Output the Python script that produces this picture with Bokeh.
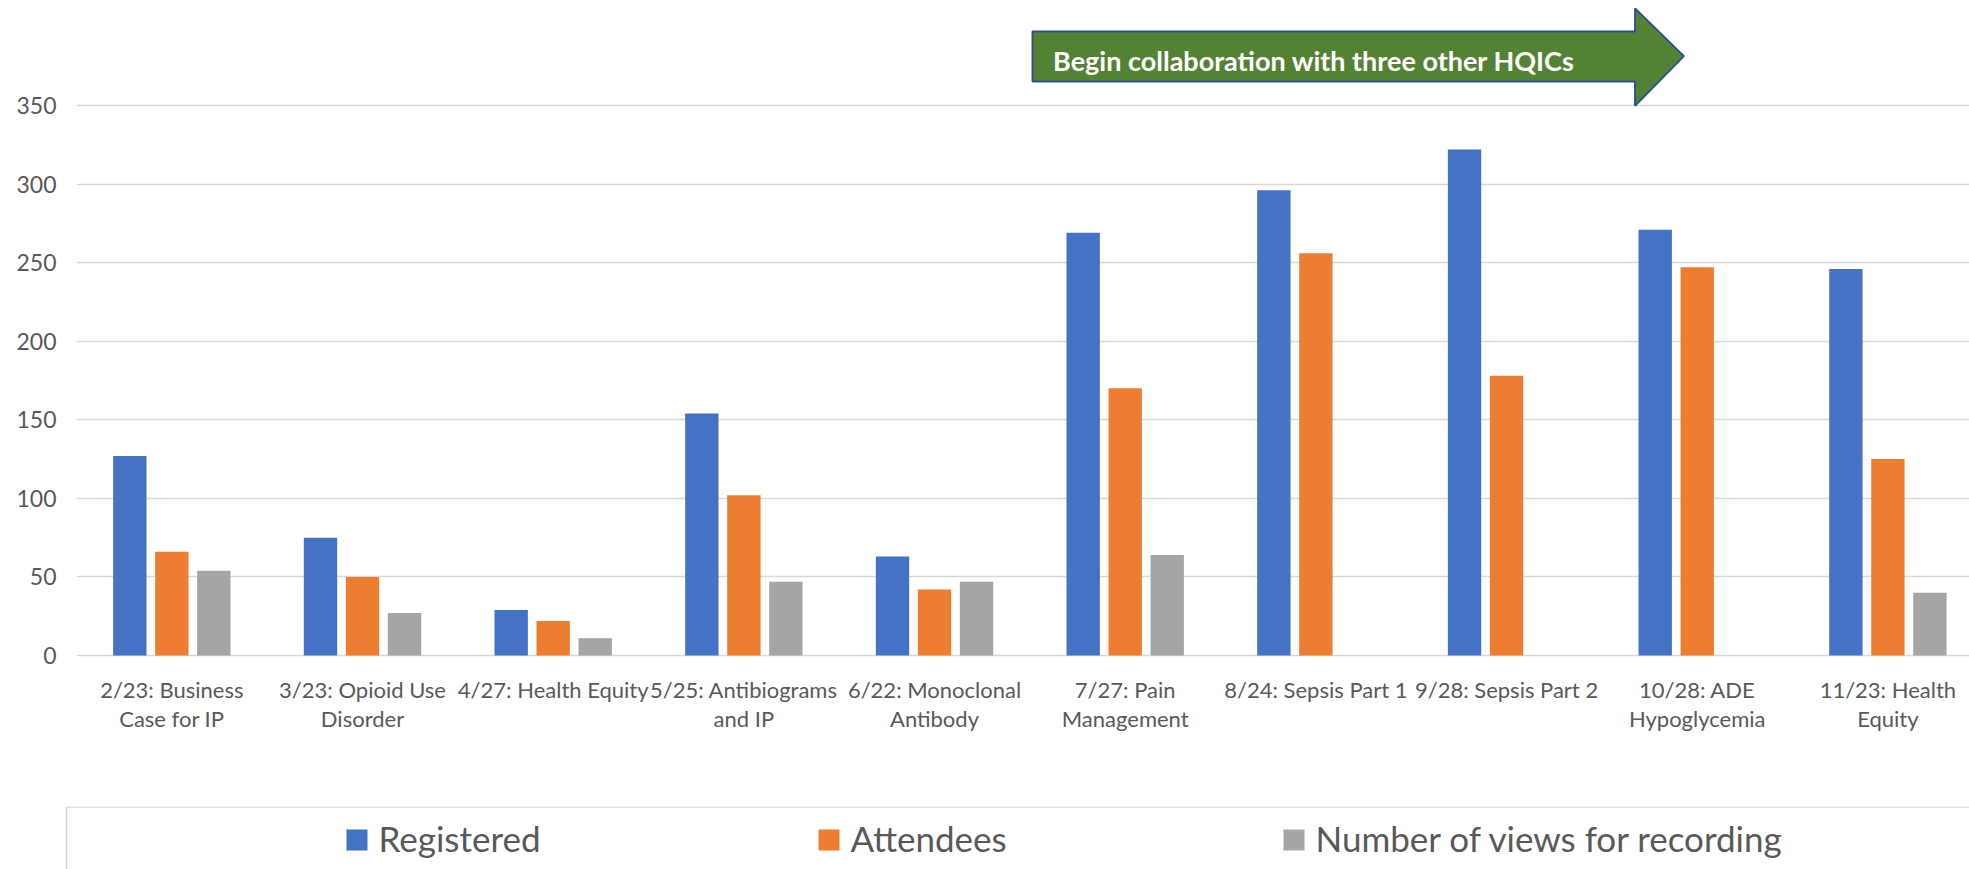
from bokeh.plotting import figure
from bokeh.layouts import column
from bokeh.models import Range1d, FixedTicker, ColumnDataSource
from bokeh.core.properties import value
from bokeh.embed import file_html
from bokeh.resources import INLINE

# ---- data ----
categories = [
    "2/23: Business\nCase for IP",
    "3/23: Opioid Use\nDisorder",
    "4/27: Health Equity",
    "5/25: Antibiograms\nand IP",
    "6/22: Monoclonal\nAntibody",
    "7/27: Pain\nManagement",
    "8/24: Sepsis Part 1",
    "9/28: Sepsis Part 2",
    "10/28: ADE\nHypoglycemia",
    "11/23: Health\nEquity",
]
registered = [127, 75, 29, 154, 63, 269, 296, 322, 271, 246]
attendees = [66, 50, 22, 102, 42, 170, 256, 178, 247, 125]
views = [54, 27, 11, 47, 47, 64, 0, 0, 0, 40]
series_names = ["Registered", "Attendees", "Number of views for recording"]
series_colors = ["#4472C4", "#ED7D31", "#A5A5A5"]
y_ticks = [0, 50, 100, 150, 200, 250, 300, 350]
arrow_text = "Begin collaboration with three other HQICs"

FONT = "Lato"
TXT = "#595959"
GRID = "#D9D9D9"

idx = list(range(len(categories)))

p = figure(width=1969, height=806, output_backend="svg", toolbar_location=None,
           x_range=Range1d(-0.5, 9.428), y_range=Range1d(-1.27, 416.8),
           min_border_left=76, min_border_right=0, min_border_top=0, min_border_bottom=149)
p.frame_align = False
p.outline_line_color = None
p.background_fill_color = "white"
p.border_fill_color = "white"

offset = 0.2203
bw = 0.175
for k, (vals, col) in enumerate(zip([registered, attendees, views], series_colors)):
    src = ColumnDataSource(dict(x=[i + (k - 1) * offset for i in idx], top=vals))
    p.vbar(x="x", top="top", bottom=0, width=bw, source=src, fill_color=col, line_color=None)

# axes
p.xaxis.ticker = FixedTicker(ticks=idx)
p.xaxis.major_label_overrides = {i: c for i, c in zip(idx, categories)}
p.xaxis.axis_line_color = None
p.xaxis.major_tick_line_color = None
p.xaxis.minor_tick_line_color = None
p.xaxis.major_label_text_font = FONT
p.xaxis.major_label_text_font_size = "22px"
p.xaxis.major_label_text_color = TXT
p.xaxis.major_label_text_line_height = 1.1
p.xaxis.major_label_standoff = 12

p.yaxis.ticker = FixedTicker(ticks=y_ticks)
p.yaxis.axis_line_color = None
p.yaxis.major_tick_line_color = None
p.yaxis.minor_tick_line_color = None
p.yaxis.major_label_text_font = FONT
p.yaxis.major_label_text_font_size = "23px"
p.yaxis.major_label_text_color = TXT
p.yaxis.major_label_standoff = 14

p.xgrid.grid_line_color = None
p.ygrid.grid_line_color = GRID
p.ygrid.grid_line_width = 1.5

# arrow annotation (category units / value units)
ax = [4.514, 7.674, 7.674, 7.93, 7.674, 7.674, 4.514]
ay = [397.1, 397.1, 411.7, 381.4, 349.8, 365.3, 365.3]
p.patch(ax, ay, fill_color="#548235", line_color="#2F528F", line_width=2)
p.text(x=[5.99], y=[378.5], text=[arrow_text], text_font=value(FONT), text_font_style="bold",
       text_font_size="27px", text_color="white", text_align="center", text_baseline="alphabetic")

# ---- legend strip ----
lg = figure(width=1969, height=63, output_backend="svg", toolbar_location=None,
            x_range=Range1d(0, 1969), y_range=Range1d(63, 0),
            min_border=0, min_border_left=0, min_border_right=0, min_border_top=0,
            min_border_bottom=0, x_axis_location=None, y_axis_location=None)
lg.frame_align = False
lg.outline_line_color = None
lg.xgrid.visible = False
lg.ygrid.visible = False
lg.quad(left=[66], right=[2000], top=[0.5], bottom=[80], fill_color="white",
        line_color=GRID, line_width=1.5)
sq_x = [346, 818, 1283]
lg.rect(x=[s + 10.5 for s in sq_x], y=[33.5] * 3, width=21, height=21,
        fill_color=series_colors, line_color=None)
lg.text(x=[s + 32 for s in sq_x], y=[31] * 3, text=series_names, text_font=value(FONT),
        text_font_size="35px", text_color=TXT, text_align="left", text_baseline="alphabetic")

layout = column(p, lg, spacing=0)
open("out.html", "w").write(file_html(layout, INLINE))
